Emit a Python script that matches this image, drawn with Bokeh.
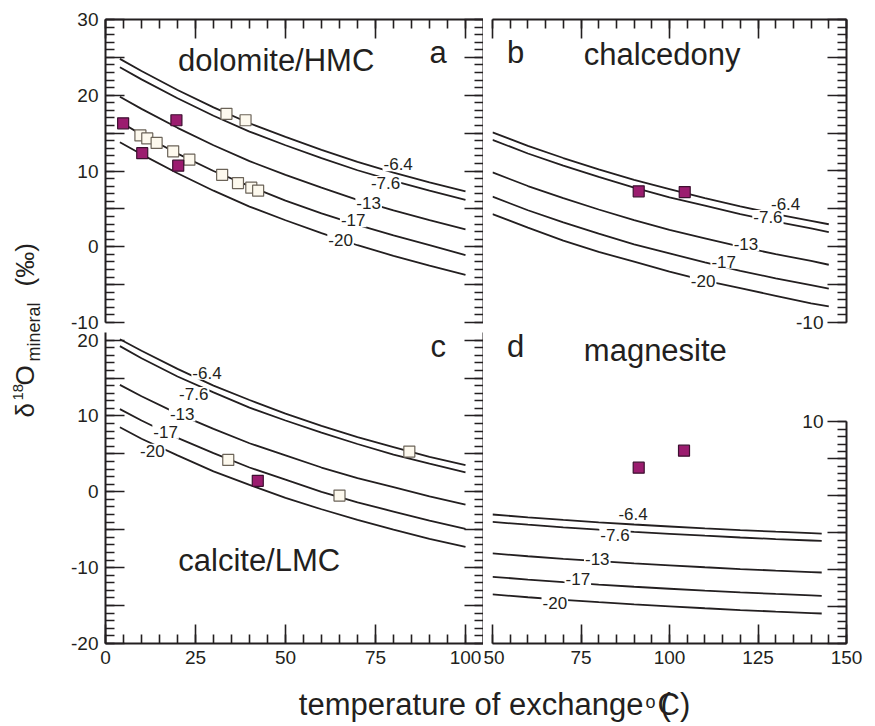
import math
from bokeh.plotting import figure
from bokeh.models import Range1d, LinearAxis, FixedTicker, Label
from bokeh.layouts import row, column
from bokeh.embed import file_html
from bokeh.resources import INLINE
from bokeh.core.properties import value

FONT = "Liberation Sans"
INK = "#231f20"
PURPLE = "#9b1c6f"
PURPLE_EDGE = "#3d1030"
CREAM = "#fdf9ee"
CREAM_EDGE = "#6b6358"

water_labels = ["-6.4", "-7.6", "-13", "-17", "-20"]

# ---- panel a : dolomite/HMC ----
dol_T = [4, 10, 20, 30, 40, 50, 60, 70, 80, 90, 100]
dol_m6_4 = [24.8, 23.2, 20.7, 18.4, 16.3, 14.5, 12.8, 11.2, 9.8, 8.5, 7.3]
dol_m7_6 = [23.7, 22.1, 19.6, 17.3, 15.2, 13.4, 11.7, 10.1, 8.7, 7.4, 6.2]
dol_m13 = [19.8, 18.2, 15.7, 13.4, 11.3, 9.5, 7.8, 6.2, 4.8, 3.5, 2.3]
dol_m17 = [16.5, 14.8, 12.3, 10.0, 8.0, 6.1, 4.4, 2.9, 1.5, 0.2, -1.1]
dol_m20 = [13.8, 12.2, 9.7, 7.4, 5.3, 3.5, 1.8, 0.2, -1.2, -2.5, -3.7]
dol_white_T = [33.6, 38.9, 9.7, 11.6, 14.2, 18.8, 23.3, 32.4, 36.8, 40.5, 42.4]
dol_white_d = [17.55, 16.7, 14.7, 14.3, 13.7, 12.6, 11.5, 9.5, 8.4, 7.8, 7.4]
dol_purple_T = [4.9, 19.7, 10.2, 20.2]
dol_purple_d = [16.3, 16.7, 12.35, 10.7]

# ---- panel b : chalcedony ----
chal_T = [50, 60, 70, 80, 90, 100, 110, 120, 130, 140, 145]
chal_m6_4 = [15.1, 13.3, 11.7, 10.2, 8.8, 7.6, 6.4, 5.3, 4.3, 3.4, 2.95]
chal_m7_6 = [14.1, 12.3, 10.7, 9.2, 7.8, 6.5, 5.4, 4.3, 3.3, 2.4, 1.9]
chal_m13 = [9.8, 8.0, 6.4, 4.9, 3.5, 2.2, 1.1, 0.0, -1.0, -1.9, -2.4]
chal_m17 = [6.6, 4.8, 3.2, 1.7, 0.3, -0.9, -2.1, -3.2, -4.2, -5.1, -5.55]
chal_m20 = [4.3, 2.5, 0.8, -0.7, -2.0, -3.3, -4.5, -5.5, -6.5, -7.5, -7.9]
chal_purple_T = [91.3, 104.3]
chal_purple_d = [7.3, 7.2]

# ---- panel c : calcite/LMC ----
cal_T = [4, 10, 20, 30, 40, 50, 60, 70, 80, 90, 100]
cal_m6_4 = [20.1, 18.6, 16.2, 14.0, 12.1, 10.3, 8.7, 7.2, 5.9, 4.6, 3.5]
cal_m7_6 = [19.2, 17.6, 15.2, 13.1, 11.1, 9.4, 7.8, 6.3, 4.9, 3.7, 2.55]
cal_m13 = [14.1, 12.6, 10.3, 8.3, 6.4, 4.8, 3.2, 1.8, 0.6, -0.6, -1.7]
cal_m17 = [10.9, 9.4, 7.1, 5.1, 3.2, 1.6, 0.0, -1.4, -2.6, -3.8, -4.9]
cal_m20 = [8.5, 7.0, 4.8, 2.7, 0.9, -0.8, -2.3, -3.7, -5.0, -6.2, -7.25]
cal_white_T = [34.1, 65.0, 84.4]
cal_white_d = [4.2, -0.5, 5.3]
cal_purple_T = [42.3]
cal_purple_d = [1.45]

# ---- panel d : magnesite ----
mag_T = [50, 60, 70, 80, 90, 100, 110, 120, 130, 140, 143]
mag_m6_4 = [-2.54, -2.92, -3.27, -3.59, -3.89, -4.16, -4.41, -4.65, -4.86, -5.06, -5.12]
mag_m7_6 = [-3.54, -3.92, -4.27, -4.59, -4.89, -5.16, -5.41, -5.65, -5.86, -6.06, -6.12]
mag_m13 = [-7.81, -8.19, -8.54, -8.86, -9.16, -9.43, -9.68, -9.92, -10.13, -10.33, -10.39]
mag_m17 = [-10.97, -11.35, -11.70, -12.02, -12.32, -12.59, -12.84, -13.08, -13.29, -13.49, -13.55]
mag_m20 = [-13.36, -13.74, -14.09, -14.41, -14.71, -14.98, -15.23, -15.47, -15.68, -15.88, -15.94]
mag_purple_T = [91.3, 104.1]
mag_purple_d = [3.8, 6.1]

# curve-label anchor positions (layout)
a_lab_x = [81.3, 77.8, 73.1, 68.8, 65.3]
a_lab_y = [10.9, 8.4, 5.8, 3.5, 0.9]
b_lab_x = [132.8, 127.8, 121.6, 115.3, 109.5]
b_lab_y = [5.6, 3.9, 0.3, -2.0, -4.6]
c_lab_x = [28.2, 24.5, 21.3, 16.7, 13.0]
c_lab_y = [15.7, 12.9, 10.2, 7.9, 5.4]
d_lab_x = [89.7, 84.6, 79.6, 74.1, 67.6]
d_lab_y = [-2.5, -5.35, -8.5, -11.3, -14.5]

# tick values
x_ticks_left = [0, 25, 50, 75, 100]
x_ticks_right = [50, 75, 100, 125, 150]
y_ticks_top = [-10, -5, 0, 5, 10, 15, 20, 25, 30]
y_ticks_bottom = [-20, -15, -10, -5, 0, 5, 10, 15, 20]


def panel(xr, yr, fw, fh, bl, br, bt, bb):
    p = figure(x_range=Range1d(*xr), y_range=Range1d(*yr),
               frame_width=fw, frame_height=fh,
               min_border_left=bl, min_border_right=br,
               min_border_top=bt, min_border_bottom=bb,
               x_axis_location=None, y_axis_location=None,
               toolbar_location=None, output_backend="svg")
    p.outline_line_color = None
    p.grid.visible = False
    p.background_fill_color = "white"
    p.border_fill_color = "white"
    return p


def add_axis(p, side, ticks, minor, labels=True, blank_ticks=(), bounds=None):
    ax = LinearAxis()
    ax.ticker = FixedTicker(ticks=ticks, minor_ticks=minor)
    ax.axis_line_color = INK
    ax.axis_line_width = 2
    ax.major_tick_line_color = INK
    ax.major_tick_line_width = 1.6
    ax.minor_tick_line_color = INK
    ax.minor_tick_line_width = 1.6
    ax.major_tick_in = 19
    ax.major_tick_out = 0
    ax.minor_tick_in = 9
    ax.minor_tick_out = 0
    if bounds is not None:
        ax.bounds = bounds
    if labels:
        ax.major_label_text_font = FONT
        ax.major_label_text_font_size = "19px"
        ax.major_label_text_color = INK
        ax.major_label_standoff = 7
        ax.major_label_overrides = {t: ("" if t in blank_ticks else str(t)) for t in ticks}
    else:
        ax.major_label_overrides = {t: "" for t in ticks}
        ax.major_label_text_font_size = "0px"
        ax.major_label_standoff = 0
    p.add_layout(ax, side)
    return ax


def curves(p, T, series, lab_x, lab_y):
    for s in series:
        p.line(T, s, line_color=INK, line_width=1.8)
    p.text(lab_x, lab_y, text=water_labels, text_font=value(FONT),
           text_font_size="17px", text_color=INK, text_align="center",
           text_baseline="middle", background_fill_color="white", padding=1)


def squares(p, T, d, fill, edge):
    p.scatter(T, d, marker="square", size=11, fill_color=fill,
              line_color=edge, line_width=1.2)


def name(p, x, y, txt):
    p.text([x], [y], text=[txt], text_font=value(FONT), text_font_size="31px",
           text_color=INK, text_align="center", text_baseline="middle")


y_minor_top = list(range(-10, 31))
y_minor_bottom = list(range(-20, 21))
x_minor_left = list(range(0, 106, 5))
x_minor_right = list(range(50, 151, 5))
odd5_top = (-5, 5, 15, 25)
odd5_bottom = (-15, -5, 5, 15)

# panel a
pa = panel((0, 105), (-10, 30), 378, 303, 55, 0, 19, 10)
add_axis(pa, "left", y_ticks_top, y_minor_top, blank_ticks=odd5_top)
add_axis(pa, "above", x_ticks_left, x_minor_left, labels=False)
add_axis(pa, "right", y_ticks_top, y_minor_top, labels=False)
curves(pa, dol_T, [dol_m6_4, dol_m7_6, dol_m13, dol_m17, dol_m20], a_lab_x, a_lab_y)
squares(pa, dol_white_T, dol_white_d, CREAM, CREAM_EDGE)
squares(pa, dol_purple_T, dol_purple_d, PURPLE, PURPLE_EDGE)
name(pa, 47.4, 24.6, "dolomite/HMC")
name(pa, 92.4, 25.7, "a")

# panel b (frame reaches a little below -10 so the inside "-10" label is not clipped)
pb = panel((50, 150), (-11.35, 30), 354, 313, 9, 29, 19, 0)
add_axis(pb, "above", x_ticks_right, x_minor_right, labels=False)
add_axis(pb, "right", y_ticks_top, y_minor_top, labels=False, bounds=(-10, 30))
curves(pb, chal_T, [chal_m6_4, chal_m7_6, chal_m13, chal_m17, chal_m20], b_lab_x, b_lab_y)
squares(pb, chal_purple_T, chal_purple_d, PURPLE, PURPLE_EDGE)
name(pb, 56.5, 25.7, "b")
name(pb, 97.9, 25.4, "chalcedony")
pb.add_layout(Label(x=150, y=-10, text="-10", x_offset=-23, text_align="right",
                    text_baseline="middle", text_font=FONT, text_font_size="19px",
                    text_color=INK))

# panel c
pc = panel((0, 105), (-20, 21), 378, 311, 55, 0, 0, 40)
add_axis(pc, "left", y_ticks_bottom, y_minor_bottom, blank_ticks=odd5_bottom)
add_axis(pc, "below", x_ticks_left, x_minor_left)
add_axis(pc, "right", y_ticks_bottom, y_minor_bottom, labels=False)
curves(pc, cal_T, [cal_m6_4, cal_m7_6, cal_m13, cal_m17, cal_m20], c_lab_x, c_lab_y)
squares(pc, cal_white_T, cal_white_d, CREAM, CREAM_EDGE)
squares(pc, cal_purple_T, cal_purple_d, PURPLE, PURPLE_EDGE)
name(pc, 92.4, 19.1, "c")
name(pc, 42.7, -9.0, "calcite/LMC")

# panel d
pd_ = panel((50, 150), (-20, 22.1), 354, 311, 9, 29, 0, 40)
add_axis(pd_, "below", x_ticks_right, x_minor_right)
add_axis(pd_, "right", [-20, -15, -10, -5, 0, 5, 10], list(range(-20, 11)),
         labels=False, bounds=(-20, 10))
curves(pd_, mag_T, [mag_m6_4, mag_m7_6, mag_m13, mag_m17, mag_m20], d_lab_x, d_lab_y)
squares(pd_, mag_purple_T, mag_purple_d, PURPLE, PURPLE_EDGE)
name(pd_, 56.5, 20.25, "d")
name(pd_, 96.0, 19.6, "magnesite")
pd_.add_layout(Label(x=150, y=10, text="10", x_offset=-23, text_align="right",
                     text_baseline="middle", text_font=FONT, text_font_size="19px",
                     text_color=INK))


def blank(w, h, xr, yr):
    f = figure(width=w, height=h, x_range=Range1d(*xr), y_range=Range1d(*yr),
               min_border=0, x_axis_location=None, y_axis_location=None,
               toolbar_location=None, output_backend="svg")
    f.outline_line_color = None
    f.grid.visible = False
    return f


# y-axis title (coordinates = page pixels, anchor = middle of the em box)
ylab = blank(50, 726, (0, 50), (726, 0))
R = math.pi / 2
for txt, x, y, fs in [("δ", 24, 417, "26px"), ("18", 17, 400, "15px"),
                      ("O", 24, 385, "26px"), ("mineral", 33, 361, "18px"),
                      ("(‰)", 24, 286, "26px")]:
    ylab.add_layout(Label(x=x, y=y, text=txt, angle=R, text_align="left",
                          text_baseline="middle", text_font=FONT,
                          text_font_size=fs, text_color=INK))

# x-axis title (x = page pixels, y = pixels from the strip's top)
XH = 43
xlab = blank(825, XH, (50, 875), (XH, 0))
for txt, x, y, fs, al in [("temperature of exchange", 643, 21, "31px", "right"),
                          ("o", 645, 18, "18px", "left"),
                          ("(", 660, 21, "31px", "left"),
                          ("C)", 657, 21, "31px", "left")]:
    xlab.add_layout(Label(x=x, y=y, text=txt, text_align=al,
                          text_baseline="middle", text_font=FONT,
                          text_font_size=fs, text_color=INK))

layout = row(ylab, column(row(pa, pb), row(pc, pd_), xlab))

open("out.html", "w").write(file_html(layout, INLINE))
